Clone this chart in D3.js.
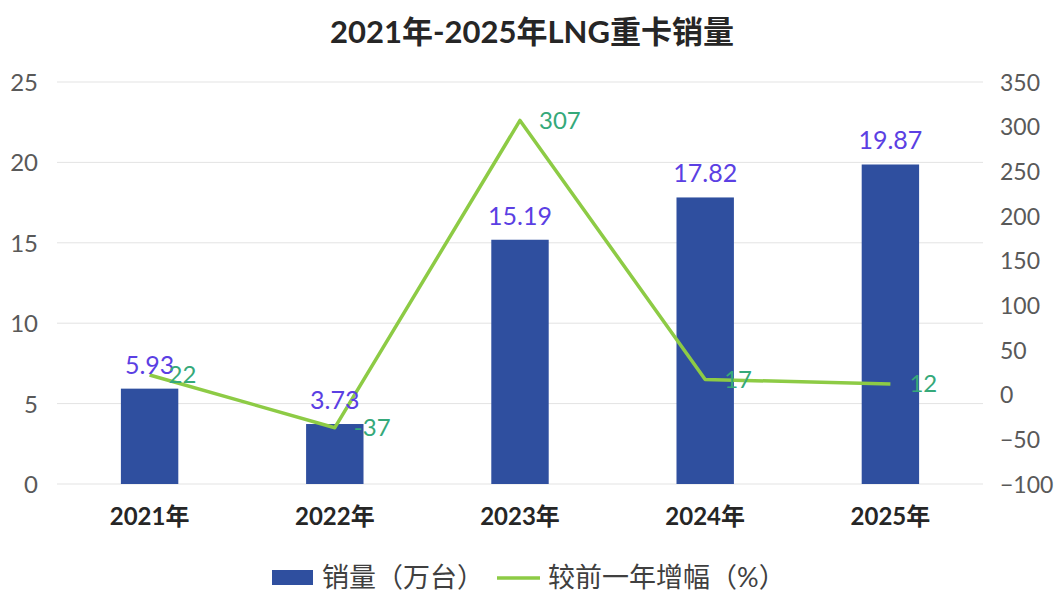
<!DOCTYPE html>
<html>
<head>
<meta charset="utf-8">
<script src="https://cdn.jsdelivr.net/npm/d3@7"></script>
<style>
  body { margin: 0; background: #fff; }
  text { font-family: Lato, "Noto Sans CJK SC", sans-serif; }
</style>
</head>
<body>
<svg id="chart"></svg>
<script>
// данные диаграммы
let years = ["2021年", "2022年", "2023年", "2024年", "2025年"];
let sales = [5.93, 3.73, 15.19, 17.82, 19.87];
let growth = [22, -37, 307, 17, 12];
let leftTicks = [0, 5, 10, 15, 20, 25];
let rightTicks = [-100, -50, 0, 50, 100, 150, 200, 250, 300, 350];
let legendNames = ["销量（万台）", "较前一年增幅（%）"];

let width = 1054, height = 590;
let plotLeft = 57, plotRight = 983, plotTop = 82, plotBottom = 484;

let svg = d3.select("#chart")
    .attr("width", width)
    .attr("height", height);

// шкалы
let scaleX = d3.scaleBand()
    .domain(years)
    .range([plotLeft, plotRight])
    .paddingInner(0.69)
    .paddingOuter(0.345);
let bandX = d3.scaleBand().domain(years).range([plotLeft, plotRight]);

let scaleY = d3.scaleLinear().domain([0, 25]).range([plotBottom, plotTop]);
let scaleY2 = d3.scaleLinear().domain([-100, 350]).range([plotBottom, plotTop]);

// заголовок
svg.append("text")
    .attr("x", 532).attr("y", 43)
    .attr("text-anchor", "middle")
    .style("font-size", "31px")
    .style("font-weight", "bold")
    .attr("fill", "#262626")
    .text("2021年-2025年LNG重卡销量");

// сетка
svg.append("g").selectAll("line")
    .data(leftTicks)
    .enter().append("line")
    .attr("x1", plotLeft).attr("x2", plotRight)
    .attr("y1", d => scaleY(d)).attr("y2", d => scaleY(d))
    .attr("stroke", "#e3e3e3").attr("stroke-width", 1);

// левая ось
let axisL = svg.append("g")
    .attr("transform", `translate(${plotLeft - 16}, 0)`)
    .call(d3.axisLeft(scaleY).tickValues(leftTicks).tickSize(0));
axisL.select(".domain").remove();
axisL.selectAll("text")
    .style("font-size", "24px").attr("fill", "#595959").attr("dy", "0.35em");

// правая ось
let axisR = svg.append("g")
    .attr("transform", `translate(${plotRight + 14}, 0)`)
    .call(d3.axisRight(scaleY2).tickValues(rightTicks).tickSize(0));
axisR.select(".domain").remove();
axisR.selectAll("text")
    .style("font-size", "23px").attr("fill", "#595959").attr("dy", "0.35em");

// ось X
let axisB = svg.append("g")
    .attr("transform", `translate(0, ${plotBottom + 14})`)
    .call(d3.axisBottom(bandX).tickSize(0));
axisB.select(".domain").remove();
axisB.selectAll("text")
    .style("font-size", "24px").style("font-weight", "bold")
    .attr("fill", "#262626").attr("dy", "1em");

// столбцы
svg.append("g").selectAll("rect")
    .data(sales)
    .enter().append("rect")
    .attr("x", (d, i) => scaleX(years[i]))
    .attr("width", scaleX.bandwidth())
    .attr("y", d => scaleY(d))
    .attr("height", d => plotBottom - scaleY(d))
    .attr("fill", "#2F4F9F");

// линия прироста
let line = d3.line()
    .x((d, i) => bandX(years[i]) + bandX.bandwidth() / 2)
    .y(d => scaleY2(d));
svg.append("path")
    .datum(growth)
    .attr("d", line)
    .attr("fill", "none")
    .attr("stroke", "#8DCB45")
    .attr("stroke-width", 3.5)
    .attr("stroke-linejoin", "round");

// подписи столбцов
svg.append("g").selectAll("text")
    .data(sales)
    .enter().append("text")
    .attr("x", (d, i) => bandX(years[i]) + bandX.bandwidth() / 2)
    .attr("y", d => scaleY(d) - 15)
    .attr("text-anchor", "middle")
    .style("font-size", "25px")
    .attr("fill", "#5B3FE3")
    .text(d => d3.format(".2f")(d));

// подписи линии
svg.append("g").selectAll("text")
    .data(growth)
    .enter().append("text")
    .attr("x", (d, i) => bandX(years[i]) + bandX.bandwidth() / 2 + 19)
    .attr("y", d => scaleY2(d))
    .attr("dy", "0.35em")
    .style("font-size", "24px")
    .attr("fill", "#35A97A")
    .text(d => d);

// легенда
let lg = svg.append("g");
lg.append("rect")
    .attr("x", 272).attr("y", 570).attr("width", 41).attr("height", 15)
    .attr("fill", "#2F4F9F");
lg.append("text")
    .attr("x", 322).attr("y", 587)
    .style("font-size", "27px").attr("fill", "#404040")
    .text(legendNames[0]);
lg.append("line")
    .attr("x1", 497).attr("x2", 540).attr("y1", 578).attr("y2", 578)
    .attr("stroke", "#8DCB45").attr("stroke-width", 3.5);
lg.append("text")
    .attr("x", 548).attr("y", 587)
    .style("font-size", "27px").attr("fill", "#404040")
    .text(legendNames[1]);
</script>
</body>
</html>
